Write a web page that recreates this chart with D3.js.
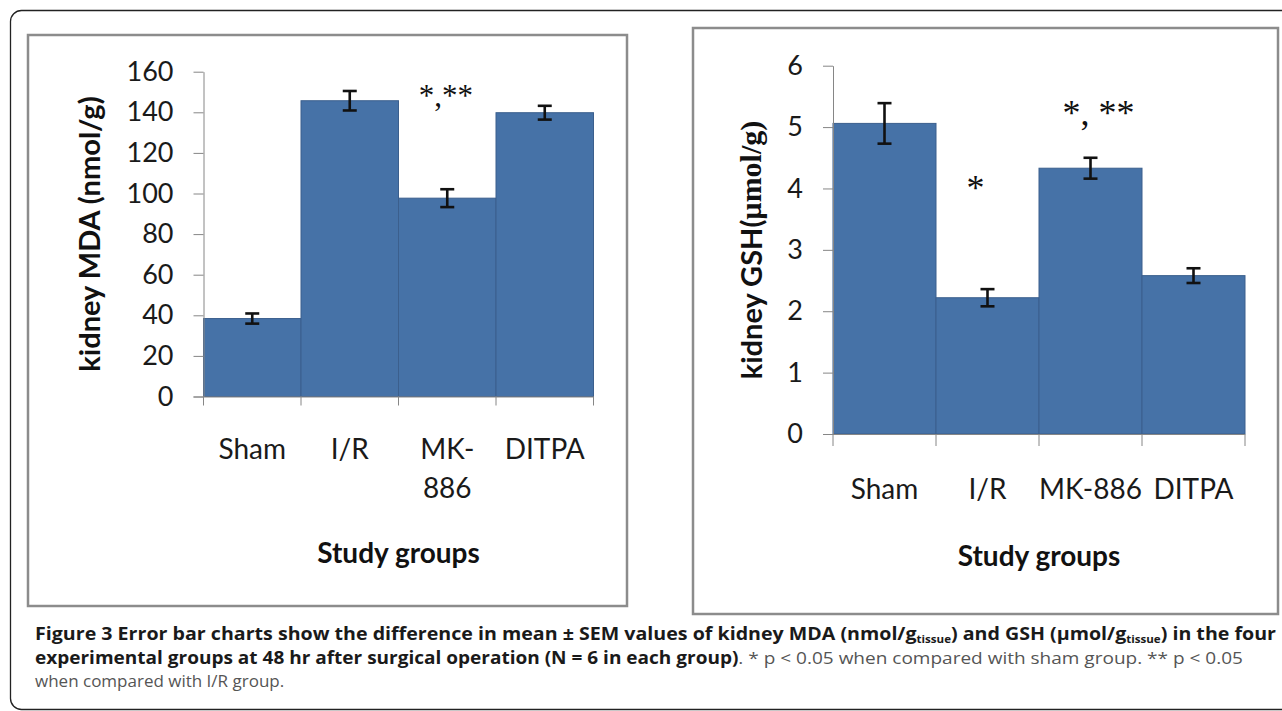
<!DOCTYPE html>
<html lang="en">
<head>
<meta charset="UTF-8">
<title>Kidney MDA and GSH</title>
<script src="https://cdn.jsdelivr.net/npm/d3@7"></script>
<style>
  html, body { margin: 0; padding: 0; background: #fff; }
  svg { display: block; }
</style>
</head>
<body>
<svg id="fig" width="1282" height="711"></svg>
<script>
// data
var groups = ["Sham", "I/R", "MK-886", "DITPA"];
var mdaLabels = [["Sham"], ["I/R"], ["MK-", "886"], ["DITPA"]];
var gshLabels = [["Sham"], ["I/R"], ["MK-886"], ["DITPA"]];
var mdaMean = [38.4, 145.7, 97.7, 139.8];
var mdaSem = [2.5, 4.8, 4.4, 3.4];
var gshMean = [5.06, 2.22, 4.33, 2.58];
var gshSem = [0.33, 0.14, 0.17, 0.12];
var mdaTicks = [0, 20, 40, 60, 80, 100, 120, 140, 160];
var gshTicks = [0, 1, 2, 3, 4, 5, 6];
var mdaMarks = ["", "", "*,**", ""];
var gshMarks = ["", "*", "*, **", ""];

var svg = d3.select("#fig");
var sans = "Lato, 'Open Sans', sans-serif";
var serif = "'Liberation Serif', 'DejaVu Serif', serif";

// outer rounded frame
svg.append("rect")
  .attr("x", 10.5).attr("y", 10.5)
  .attr("width", 1300).attr("height", 699)
  .attr("rx", 11)
  .attr("fill", "none").attr("stroke", "#222").attr("stroke-width", 1.3);

function drawPanel(cfg) {
  var g = svg.append("g");

  // panel border
  g.append("rect")
    .attr("x", cfg.box[0]).attr("y", cfg.box[1])
    .attr("width", cfg.box[2] - cfg.box[0]).attr("height", cfg.box[3] - cfg.box[1])
    .attr("fill", "#fff").attr("stroke", "#8c8c8c").attr("stroke-width", 2.5);

  var x = d3.scaleBand().domain(groups).range(cfg.xr).paddingInner(0).paddingOuter(0);
  var y = d3.scaleLinear().domain([0, cfg.ticks[cfg.ticks.length - 1]]).range(cfg.yr);
  var rows = groups.map(function(d, i) {
    return {name: d, mean: cfg.mean[i], sem: cfg.sem[i], lines: cfg.labels[i], mark: cfg.marks[i]};
  });

  // bars
  g.selectAll("rect.bar").data(rows).enter().append("rect")
    .attr("class", "bar")
    .attr("x", function(d) { return x(d.name); })
    .attr("width", x.bandwidth())
    .attr("y", function(d) { return y(d.mean); })
    .attr("height", function(d) { return y(0) - y(d.mean); })
    .attr("fill", "#4672a7")
    .attr("stroke", "#3b5f8d").attr("stroke-width", 1);

  // y axis
  var ya = g.append("g")
    .attr("transform", "translate(" + cfg.xr[0] + ",0)")
    .call(d3.axisLeft(y).tickValues(cfg.ticks).tickFormat(d3.format("d"))
      .tickSize(10).tickSizeOuter(0).tickPadding(20));
  ya.select(".domain").attr("stroke", "#868686");
  ya.selectAll(".tick line").attr("stroke", "#868686");
  ya.selectAll(".tick text")
    .attr("fill", "#1a1a1a")
    .style("font-family", sans).style("font-size", "27px");

  // x axis with ticks on the category boundaries
  var y0 = y(0);
  g.append("line")
    .attr("x1", cfg.xr[0] - 10).attr("x2", cfg.xr[1])
    .attr("y1", y0 + 0.5).attr("y2", y0 + 0.5)
    .attr("stroke", "#868686");
  var bounds = groups.map(function(d) { return x(d); }).concat([x.range()[1]]);
  g.selectAll("line.xtick").data(bounds).enter().append("line")
    .attr("class", "xtick")
    .attr("x1", function(d) { return d; }).attr("x2", function(d) { return d; })
    .attr("y1", y0).attr("y2", y0 + cfg.xTick)
    .attr("stroke", "#868686");

  // category labels
  var lab = g.selectAll("text.cat").data(rows).enter().append("text")
    .attr("class", "cat")
    .attr("text-anchor", "middle")
    .attr("fill", "#1a1a1a")
    .style("font-family", sans).style("font-size", "28px");
  lab.selectAll("tspan").data(function(d) {
      return d.lines.map(function(t) { return {t: t, cx: x(d.name) + x.bandwidth() / 2}; });
    }).enter().append("tspan")
    .attr("x", function(d) { return d.cx; })
    .attr("y", function(d, i) { return cfg.catY + i * 39; })
    .attr("dominant-baseline", "central")
    .text(function(d) { return d.t; });

  // error bars
  var eb = g.selectAll("g.err").data(rows).enter().append("g")
    .attr("class", "err")
    .attr("stroke", "#111").attr("stroke-width", 2.6);
  eb.append("line")
    .attr("x1", function(d) { return x(d.name) + x.bandwidth() / 2; })
    .attr("x2", function(d) { return x(d.name) + x.bandwidth() / 2; })
    .attr("y1", function(d) { return y(d.mean + d.sem); })
    .attr("y2", function(d) { return y(d.mean - d.sem); });
  [1, -1].forEach(function(s) {
    eb.append("line")
      .attr("x1", function(d) { return x(d.name) + x.bandwidth() / 2 - 7; })
      .attr("x2", function(d) { return x(d.name) + x.bandwidth() / 2 + 7; })
      .attr("y1", function(d) { return y(d.mean + s * d.sem); })
      .attr("y2", function(d) { return y(d.mean + s * d.sem); });
  });

  // significance marks
  g.selectAll("text.mark").data(rows.filter(function(d) { return d.mark; })).enter().append("text")
    .attr("class", "mark")
    .attr("text-anchor", "middle")
    .attr("x", function(d) { return x(d.name) + x.bandwidth() / 2 + cfg.markDx[d.mark]; })
    .attr("y", function(d) { return y(cfg.markLevel[d.mark]); })
    .attr("fill", "#111")
    .style("font-family", serif).style("font-size", cfg.markSize + "px")
    .text(function(d) { return d.mark; });

  // axis titles
  g.append("text")
    .attr("text-anchor", "middle")
    .attr("x", (cfg.xr[0] + cfg.xr[1]) / 2 + cfg.titleDx).attr("y", cfg.titleY)
    .attr("dominant-baseline", "central")
    .attr("fill", "#111")
    .style("font-family", sans).style("font-size", "28px").style("font-weight", "bold")
    .text("Study groups");

  var yt = g.append("text")
    .attr("transform", "translate(" + cfg.yTitle[0] + "," + cfg.yTitle[1] + ") rotate(-90)")
    .attr("text-anchor", "middle")
    .attr("dominant-baseline", "central")
    .attr("fill", "#111")
    .style("font-weight", "bold");
  cfg.yTitleParts.forEach(function(p) {
    yt.append("tspan")
      .style("font-family", p.serif ? serif : sans)
      .style("font-size", p.size + "px")
      .text(p.t);
  });
}

drawPanel({
  box: [28, 35, 627, 606],
  xr: [203.5, 593.5], yr: [396.5, 71.7],
  ticks: mdaTicks, mean: mdaMean, sem: mdaSem, labels: mdaLabels, marks: mdaMarks,
  xTick: 9, catY: 448, titleY: 552, titleDx: 0,
  markLevel: {"*,**": 143}, markDx: {"*,**": -1.5}, markSize: 31,
  yTitle: [88, 234],
  yTitleParts: [{t: "kidney MDA (nmol/g)", size: 29}]
});

drawPanel({
  box: [693, 28, 1278, 614],
  xr: [833, 1245], yr: [434, 65.7],
  ticks: gshTicks, mean: gshMean, sem: gshSem, labels: gshLabels, marks: gshMarks,
  xTick: 12, catY: 488, titleY: 555, titleDx: 0,
  markLevel: {"*": 3.81, "*, **": 5.03}, markDx: {"*": -12, "*, **": 8}, markSize: 36,
  yTitle: [750, 250],
  yTitleParts: [{t: "kidney GSH(", size: 29}, {t: "\u00b5mol/g)", size: 30, serif: true}]
});

// caption
var cap = svg.append("g")
  .style("font-family", "'Open Sans', Lato, sans-serif")
  .style("font-size", "17px");

var l1 = cap.append("text").attr("x", 35).attr("y", 640)
  .attr("textLength", 1241).attr("lengthAdjust", "spacingAndGlyphs")
  .attr("fill", "#1a1a1a").style("font-weight", "bold");
l1.append("tspan").text("Figure 3 Error bar charts show the difference in mean \u00b1 SEM values of kidney MDA (nmol/g");
l1.append("tspan").attr("dy", 3).style("font-size", "10px").text("tissue");
l1.append("tspan").attr("dy", -3).text(") and GSH (\u00b5mol/g");
l1.append("tspan").attr("dy", 3).style("font-size", "10px").text("tissue");
l1.append("tspan").attr("dy", -3).text(") in the four");

var l2 = cap.append("text").attr("x", 35).attr("y", 664)
  .attr("textLength", 1208).attr("lengthAdjust", "spacingAndGlyphs");
l2.append("tspan").attr("fill", "#1a1a1a").style("font-weight", "bold")
  .text("experimental groups at 48 hr after surgical operation (N = 6 in each group)");
l2.append("tspan").attr("fill", "#555")
  .text(". * p < 0.05 when compared with sham group. ** p < 0.05");

cap.append("text").attr("x", 35).attr("y", 687)
  .attr("fill", "#555")
  .text("when compared with I/R group.");
</script>
</body>
</html>
